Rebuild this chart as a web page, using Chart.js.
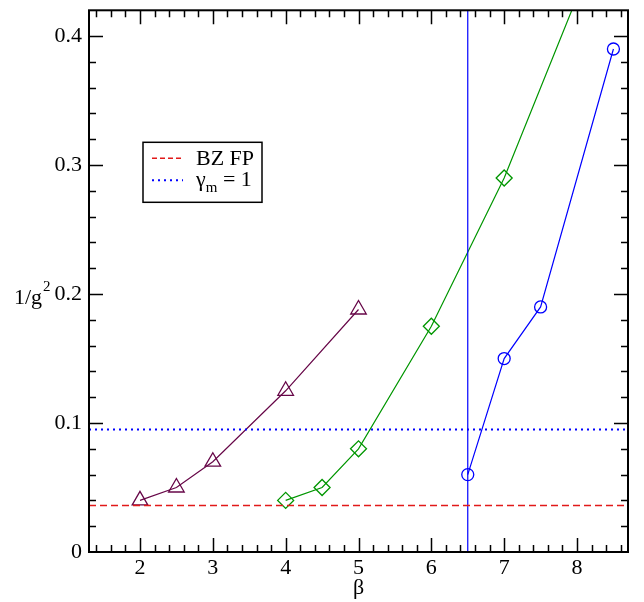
<!DOCTYPE html>
<html>
<head>
<meta charset="utf-8">
<script src="https://cdn.jsdelivr.net/npm/chart.js@4.4.0/dist/chart.umd.min.js"></script>
<style>
html, body { margin: 0; padding: 0; background: #fff; }
#wrap { width: 644px; height: 602px; }
</style>
</head>
<body>
<div id="wrap"><canvas id="myChart"></canvas></div>
<script>
// data
var triBeta = [2, 2.5, 3, 4, 5]
var triVal = [0.04, 0.05, 0.07, 0.125, 0.188]
var diaBeta = [4, 4.5, 5, 6, 7, 8]
var diaVal = [0.04, 0.05, 0.08, 0.175, 0.29, 0.43]
var circBeta = [6.5, 7, 7.5, 8.5]
var circVal = [0.06, 0.15, 0.19, 0.39]
var bzFp = 0.036
var gammaOne = 0.095
var betaCrit = 6.5
var xRange = [1.3, 8.7]
var yRange = [0, 0.42]
var xTicks = [2, 3, 4, 5, 6, 7, 8]
var yTicks = [0, 0.1, 0.2, 0.3, 0.4]
var yTickLabels = ['0', '0.1', '0.2', '0.3', '0.4']

var SERIF = '"Liberation Serif", "DejaVu Serif", serif'
var FS = 22
var MAROON = 'rgb(103,7,72)'
var GREEN = 'rgb(0,150,0)'
var BLUE = 'rgb(0,0,255)'
var RED = 'rgb(225,25,25)'

function pts (xs, ys) {
	return xs.map((x, i) => ({ x: x, y: ys[i] }))
}

var frameTicks = {
	id: 'frameTicks',
	afterDraw (chart) {
		var ctx = chart.ctx
		var a = chart.chartArea
		var xs = chart.scales.x
		var ys = chart.scales.y
		ctx.save()
		ctx.strokeStyle = '#000'
		ctx.lineWidth = 1.5
		// minor + major ticks on all four sides, pointing inward
		for (var v = 1.4; v < xRange[1]; v += 0.2) {
			var px = Math.round(xs.getPixelForValue(v)) + 0.5
			var major = Math.abs(v - Math.round(v)) < 1e-6
			var len = major ? 14 : 7
			ctx.beginPath()
			ctx.moveTo(px, a.bottom); ctx.lineTo(px, a.bottom - len)
			ctx.moveTo(px, a.top); ctx.lineTo(px, a.top + len)
			ctx.stroke()
		}
		for (var k = 1; k * 0.02 < yRange[1] - 1e-6; k++) {
			var py = Math.round(ys.getPixelForValue(k * 0.02)) + 0.5
			var len2 = k % 5 === 0 ? 14 : 7
			ctx.beginPath()
			ctx.moveTo(a.left, py); ctx.lineTo(a.left + len2, py)
			ctx.moveTo(a.right, py); ctx.lineTo(a.right - len2, py)
			ctx.stroke()
		}
		ctx.lineWidth = 2
		ctx.strokeRect(a.left, a.top, a.right - a.left, a.bottom - a.top)

		// axis titles
		ctx.fillStyle = '#000'
		ctx.font = FS + 'px ' + SERIF
		ctx.textBaseline = 'alphabetic'
		ctx.textAlign = 'center'
		ctx.fillText('β', (a.left + a.right) / 2, 594)
		ctx.textAlign = 'left'
		ctx.fillText('1/g', 14, 304)
		var w = ctx.measureText('1/g').width
		ctx.font = '15px ' + SERIF
		ctx.fillText('2', 14 + w + 1, 291)

		// legend box
		var lx = a.left + 54
		var ly = a.top + 132
		ctx.fillStyle = '#fff'
		ctx.fillRect(lx, ly, 119, 60)
		ctx.lineWidth = 1.5
		ctx.strokeStyle = '#000'
		ctx.strokeRect(lx, ly, 119, 60)
		ctx.lineWidth = 1.4
		ctx.strokeStyle = RED
		ctx.setLineDash([5, 3])
		ctx.beginPath(); ctx.moveTo(lx + 9, ly + 16); ctx.lineTo(lx + 40, ly + 16); ctx.stroke()
		ctx.strokeStyle = BLUE
		ctx.lineWidth = 2
		ctx.setLineDash([2, 4])
		ctx.beginPath(); ctx.moveTo(lx + 9, ly + 38); ctx.lineTo(lx + 40, ly + 38); ctx.stroke()
		ctx.setLineDash([])
		ctx.fillStyle = '#000'
		ctx.font = FS + 'px ' + SERIF
		ctx.fillText('BZ FP', lx + 53, ly + 23)
		ctx.fillText('γ', lx + 53, ly + 44)
		var gw = ctx.measureText('γ').width
		ctx.font = '15px ' + SERIF
		ctx.fillText('m', lx + 53 + gw, ly + 50)
		var mw = ctx.measureText('m').width
		ctx.font = FS + 'px ' + SERIF
		ctx.fillText(' = 1', lx + 53 + gw + mw, ly + 44)
		ctx.restore()
	}
}

var ctx = document.getElementById('myChart').getContext('2d')
var myChart = new Chart(ctx, {
	type: 'scatter',
	data: {
		datasets: [{
			label: 'BZ FP',
			data: pts(xRange, [bzFp, bzFp]),
			showLine: true,
			borderColor: RED,
			borderWidth: 1.4,
			borderDash: [7, 4],
			pointRadius: 0
		}, {
			label: 'gamma_m = 1',
			data: pts(xRange, [gammaOne, gammaOne]),
			showLine: true,
			borderColor: BLUE,
			borderWidth: 2,
			borderDash: [2, 4],
			pointRadius: 0
		}, {
			label: 'beta_c',
			data: pts([betaCrit, betaCrit], yRange),
			showLine: true,
			borderColor: BLUE,
			borderWidth: 1.2,
			pointRadius: 0
		}, {
			label: 'triangles',
			data: pts(triBeta, triVal),
			showLine: true,
			borderColor: MAROON,
			borderWidth: 1.2,
			pointStyle: 'triangle',
			pointRadius: 9,
			pointBorderWidth: 1.3,
			pointBackgroundColor: 'rgba(0,0,0,0)'
		}, {
			label: 'diamonds',
			data: pts(diaBeta, diaVal),
			showLine: true,
			borderColor: GREEN,
			borderWidth: 1.2,
			pointStyle: 'rectRot',
			pointRadius: 8,
			pointBorderWidth: 1.3,
			pointBackgroundColor: 'rgba(0,0,0,0)'
		}, {
			label: 'circles',
			data: pts(circBeta, circVal),
			showLine: true,
			borderColor: BLUE,
			borderWidth: 1.2,
			pointStyle: 'circle',
			pointRadius: 6,
			pointBorderWidth: 1.3,
			pointBackgroundColor: 'rgba(0,0,0,0)'
		}]
	},
	options: {
		responsive: true,
		maintainAspectRatio: false,
		animation: { duration: 0 },
		layout: { padding: { top: 10, right: 16, left: 0, bottom: 0 } },
		plugins: {
			legend: { display: false },
			tooltip: { enabled: false }
		},
		scales: {
			x: {
				type: 'linear',
				min: xRange[0],
				max: xRange[1],
				afterBuildTicks: (s) => { s.ticks = xTicks.map(v => ({ value: v })) },
				afterFit: (s) => { s.height = 50; s.paddingLeft = 0; s.paddingRight = 0 },
				grid: { display: false, drawTicks: false },
				border: { display: false },
				ticks: {
					color: '#000',
					padding: 3,
					font: { family: SERIF, size: FS },
					callback: (v) => String(v)
				}
			},
			y: {
				type: 'linear',
				min: yRange[0],
				max: yRange[1],
				afterBuildTicks: (s) => { s.ticks = yTicks.map(v => ({ value: v })) },
				afterFit: (s) => { s.width = 89; s.paddingTop = 0; s.paddingBottom = 0 },
				grid: { display: false, drawTicks: false },
				border: { display: false },
				ticks: {
					color: '#000',
					padding: 7,
					font: { family: SERIF, size: FS },
					callback: (v) => yTickLabels[yTicks.findIndex(t => Math.abs(t - v) < 1e-9)]
				}
			}
		}
	},
	plugins: [frameTicks]
})
</script>
</body>
</html>
